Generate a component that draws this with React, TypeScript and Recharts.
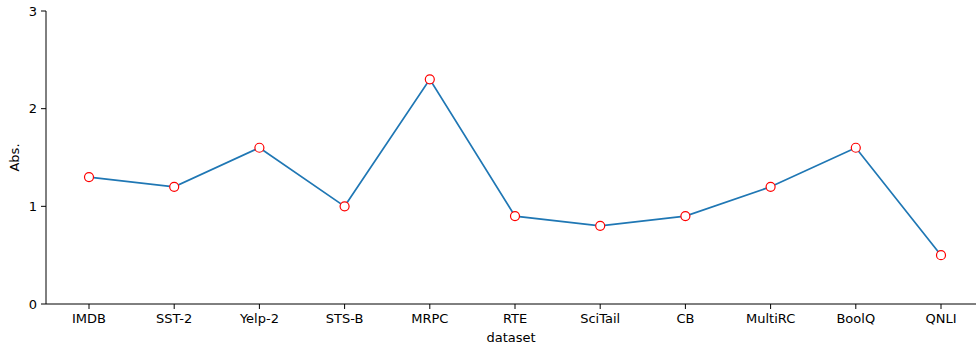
import { LineChart, Line, XAxis, YAxis } from 'recharts'

const datasets = ['IMDB', 'SST-2', 'Yelp-2', 'STS-B', 'MRPC', 'RTE', 'SciTail', 'CB', 'MultiRC', 'BoolQ', 'QNLI']
const absValues = [1.3, 1.2, 1.6, 1.0, 2.3, 0.9, 0.8, 0.9, 1.2, 1.6, 0.5]
const yTicks = [0, 1, 2, 3]

const data = datasets.map((name, i) => ({ dataset: name, abs: absValues[i] }))

const FONT = 'DejaVu Sans, sans-serif'
const tickStyle = { fill: '#000', fontSize: 13, fontFamily: FONT }

export default function App() {
  return (
    <div style={{ position: 'absolute', left: 0, top: 0, background: '#fff' }}>
      <LineChart width={976} height={345} data={data} margin={{ top: 11, right: 0, bottom: 0, left: 0 }}>
        <XAxis
          dataKey="dataset"
          type="category"
          height={41}
          padding={{ left: 43, right: 35 }}
          interval={0}
          tick={tickStyle}
          tickSize={5}
          tickMargin={5}
          axisLine={{ stroke: '#000', strokeWidth: 1 }}
          tickLine={{ stroke: '#000' }}
          label={{ value: 'dataset', position: 'insideBottom', offset: 3, style: { ...tickStyle, fontSize: 13 } }}
        />
        <YAxis
          domain={[0, 3]}
          ticks={yTicks}
          width={46}
          tick={tickStyle}
          tickSize={5}
          tickMargin={4}
          axisLine={{ stroke: '#000', strokeWidth: 1 }}
          tickLine={{ stroke: '#000' }}
          label={{ value: 'Abs.', angle: -90, position: 'insideLeft', offset: 14, style: { ...tickStyle, textAnchor: 'middle' } }}
        />
        <Line
          dataKey="abs"
          type="linear"
          stroke="#1f77b4"
          strokeWidth={1.7}
          dot={{ r: 4.5, fill: '#fff', stroke: '#ff0000', strokeWidth: 1.2 }}
          activeDot={false}
          isAnimationActive={false}
        />
      </LineChart>
    </div>
  )
}
